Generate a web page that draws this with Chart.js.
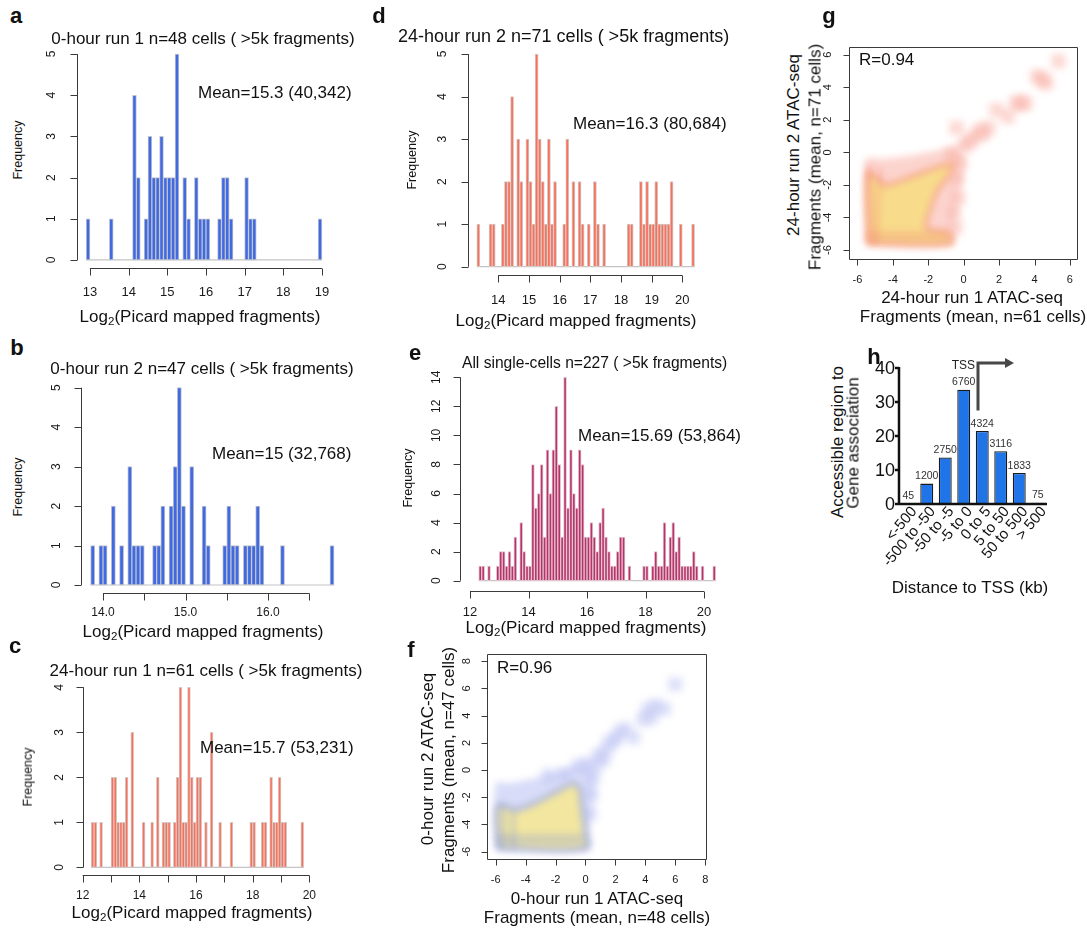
<!DOCTYPE html>
<html>
<head>
<meta charset="utf-8">
<title>Single-cell ATAC fragments</title>
<script src="https://cdn.jsdelivr.net/npm/chart.js@4.4.1/dist/chart.umd.min.js"></script>
<style>
  body { margin: 0; background: #fff; }
  #fig { position: relative; width: 1087px; height: 928px; overflow: hidden;
         font-family: "Liberation Sans", Arial, Helvetica, sans-serif; color: #111; }
  #fig canvas { position: absolute; }
  .t, .m, .lab { position: absolute; white-space: nowrap; line-height: 1; z-index: 2; }
  .t { transform: translate(-50%, -50%); font-size: 17px; }
  .m { transform: translateY(-50%); font-size: 17px; }
  .r { transform: translate(-50%, -50%) rotate(-90deg); }
  .fq { font-size: 12.5px; }
  .lab { transform: translate(-50%, -50%); font-size: 22px; font-weight: bold; }
  sub { font-size: 0.68em; vertical-align: -0.3em; line-height: 0; }
</style>
</head>
<body>
<div id="fig">
  <!-- a -->
  <div class="lab" style="left:16px;top:16px">a</div>
  <div class="t" style="left:203px;top:38px">0-hour run 1 n=48 cells ( &gt;5k fragments)</div>
  <div class="t r fq" style="left:18px;top:150px">Frequency</div>
  <div class="m" style="left:198px;top:92px">Mean=15.3 (40,342)</div>
  <div class="t" style="left:200px;top:316px">Log<sub>2</sub>(Picard mapped fragments)</div>
  <!-- b -->
  <div class="lab" style="left:17px;top:348px">b</div>
  <div class="t" style="left:202px;top:368px">0-hour run 2 n=47 cells ( &gt;5k fragments)</div>
  <div class="t r fq" style="left:18px;top:487px">Frequency</div>
  <div class="m" style="left:212px;top:453px">Mean=15 (32,768)</div>
  <div class="t" style="left:203px;top:631px">Log<sub>2</sub>(Picard mapped fragments)</div>
  <!-- c -->
  <div class="lab" style="left:15px;top:646px">c</div>
  <div class="t" style="left:206px;top:670px">24-hour run 1 n=61 cells ( &gt;5k fragments)</div>
  <div class="t r fq" style="left:28px;top:777px">Frequency</div>
  <div class="m" style="left:200px;top:747px">Mean=15.7 (53,231)</div>
  <div class="t" style="left:192px;top:912px">Log<sub>2</sub>(Picard mapped fragments)</div>
  <!-- d -->
  <div class="lab" style="left:379px;top:16px">d</div>
  <div class="m" style="left:398px;top:36px;font-size:18px">24-hour run 2 n=71 cells ( &gt;5k fragments)</div>
  <div class="t r fq" style="left:412px;top:160px">Frequency</div>
  <div class="m" style="left:573px;top:123px">Mean=16.3 (80,684)</div>
  <div class="t" style="left:576px;top:320px">Log<sub>2</sub>(Picard mapped fragments)</div>
  <!-- e -->
  <div class="lab" style="left:415px;top:353px">e</div>
  <div class="m" style="left:462px;top:363px;font-size:15.6px">All single-cells n=227 ( &gt;5k fragments)</div>
  <div class="t r fq" style="left:408px;top:478px">Frequency</div>
  <div class="m" style="left:578px;top:435px">Mean=15.69 (53,864)</div>
  <div class="t" style="left:586px;top:627px">Log<sub>2</sub>(Picard mapped fragments)</div>
  <!-- f -->
  <div class="lab" style="left:411px;top:650px">f</div>
  <div class="m" style="left:497px;top:667px">R=0.96</div>
  <div class="t r" style="left:427px;top:759px">0-hour run 2 ATAC-seq</div>
  <div class="t r" style="left:448px;top:760px">Fragments (mean, n=47 cells)</div>
  <div class="t" style="left:597px;top:898px">0-hour run 1 ATAC-seq</div>
  <div class="t" style="left:597px;top:917px">Fragments (mean, n=48 cells)</div>
  <!-- g -->
  <div class="lab" style="left:829px;top:16px">g</div>
  <div class="m" style="left:859px;top:59px">R=0.94</div>
  <div class="t r" style="left:793px;top:145px">24-hour run 2 ATAC-seq</div>
  <div class="t r" style="left:815px;top:157px">Fragments (mean, n=71 cells)</div>
  <div class="t" style="left:972px;top:297px">24-hour run 1 ATAC-seq</div>
  <div class="t" style="left:973px;top:316px">Fragments (mean, n=61 cells)</div>
  <!-- h -->
  <div class="lab" style="left:874px;top:357px">h</div>
  <div class="t r" style="left:837px;top:442px">Accessible region to</div>
  <div class="t r" style="left:853px;top:443px">Gene association</div>
  <div class="t" style="left:970px;top:587px">Distance to TSS (kb)</div>
</div>

<script>
var FONT = '"Liberation Sans", Arial, Helvetica, sans-serif';

// a: 0-hour run 1, bins of 0.1 (left edges)
var aBins = [12.9, 13.5, 14.1, 14.2, 14.4, 14.5, 14.6, 14.7, 14.8, 14.9, 15.0, 15.1, 15.2, 15.4, 15.5,
             15.7, 15.8, 15.9, 16.0, 16.3, 16.4, 16.5, 16.6, 17.0, 17.1, 17.2, 18.9];
var aCounts = [1, 1, 4, 2, 1, 3, 2, 2, 3, 2, 2, 2, 5, 2, 1, 2, 1, 1, 1, 1, 2, 2, 1, 2, 1, 1, 1];
var aXt = [13, 14, 15, 16, 17, 18, 19];
var aYt = [0, 1, 2, 3, 4, 5];

// b: 0-hour run 2, bins of 0.05
var bBins = [13.85, 13.95, 14.0, 14.1, 14.2, 14.3, 14.35, 14.4, 14.45, 14.6, 14.65, 14.7, 14.8, 14.85, 14.9,
             14.95, 15.05, 15.2, 15.25, 15.45, 15.5, 15.55, 15.6, 15.7, 15.75, 15.8, 15.85, 15.9, 16.15, 16.75];
var bCounts = [1, 1, 1, 2, 1, 3, 1, 1, 1, 1, 1, 2, 2, 3, 5, 2, 3, 2, 1, 1, 2, 1, 1, 1, 1, 1, 2, 1, 1, 1];
var bXt = [14, 14.5, 15, 15.5, 16, 16.5];
var bXl = ['14.0', '', '15.0', '', '16.0', ''];
var bYt = [0, 1, 2, 3, 4, 5];

// c: 24-hour run 1
var cBins = [12.3, 12.4, 12.6, 13.0, 13.1, 13.2, 13.3, 13.4, 13.5, 13.7, 14.1, 14.4, 14.6, 14.8, 14.9, 15.0,
             15.2, 15.3, 15.4, 15.5, 15.6, 15.7, 15.8, 15.9, 16.0, 16.1, 16.3, 16.5, 16.8, 17.2, 17.9, 18.0,
             18.3, 18.4, 18.6, 18.7, 18.8, 18.9, 19.0, 19.1, 19.7];
var cCounts = [1, 1, 1, 2, 2, 1, 1, 1, 2, 3, 1, 1, 2, 1, 1, 1, 1, 2, 4, 1, 1, 4, 2, 1, 2, 2, 1, 3, 1, 1, 1, 1,
               1, 1, 2, 1, 1, 2, 1, 1, 1];
var cXt = [12, 13, 14, 15, 16, 17, 18, 19, 20];
var cXl = ['12', '', '14', '', '16', '', '18', '', '20'];
var cYt = [0, 1, 2, 3, 4];

// d: 24-hour run 2
var dBins = [13.3, 13.7, 13.8, 14.1, 14.2, 14.3, 14.4, 14.6, 14.7, 14.9, 15.0, 15.1, 15.2, 15.3, 15.4, 15.5,
             15.6, 15.7, 15.8, 16.1, 16.2, 16.4, 16.6, 16.7, 16.9, 17.1, 17.2, 17.4, 18.2, 18.3, 18.6, 18.7,
             18.8, 18.9, 19.0, 19.1, 19.2, 19.3, 19.4, 19.5, 19.6, 19.9, 20.3];
var dCounts = [1, 1, 1, 1, 2, 2, 4, 3, 2, 3, 2, 1, 5, 3, 2, 1, 3, 1, 2, 1, 3, 2, 2, 1, 1, 2, 1, 1, 1, 1, 2, 1,
               2, 1, 1, 2, 1, 1, 1, 1, 2, 1, 1];
var dXt = [14, 15, 16, 17, 18, 19, 20];
var dYt = [0, 1, 2, 3, 4, 5];

// e: all single cells
var eBins = [12.3, 12.4, 12.6, 12.9, 13.0, 13.1, 13.2, 13.3, 13.4, 13.5, 13.7, 13.8, 13.9, 14.0, 14.1, 14.2,
             14.3, 14.4, 14.5, 14.6, 14.7, 14.8, 14.9, 15.0, 15.1, 15.2, 15.3, 15.4, 15.5, 15.6, 15.7, 15.8,
             15.9, 16.0, 16.1, 16.2, 16.3, 16.4, 16.5, 16.6, 16.7, 16.8, 16.9, 17.0, 17.1, 17.2, 17.4, 17.9,
             18.0, 18.2, 18.3, 18.4, 18.5, 18.6, 18.7, 18.8, 18.9, 19.0, 19.1, 19.2, 19.3, 19.4, 19.5, 19.6,
             19.7, 19.9, 20.3];
var eCounts = [1, 1, 1, 1, 2, 2, 1, 2, 1, 3, 4, 2, 1, 1, 8, 5, 6, 8, 3, 9, 6, 9, 12, 8, 3, 14, 5, 9, 6, 5, 9, 8,
               3, 3, 4, 3, 2, 4, 5, 3, 2, 1, 1, 2, 3, 3, 1, 1, 1, 1, 2, 1, 1, 4, 1, 3, 4, 2, 3, 1, 1, 1, 1, 2,
               1, 1, 1];
var eXt = [12, 14, 16, 18, 20];
var eYt = [0, 2, 4, 6, 8, 10, 12, 14];

// f: smoothScatter 0-hour run 1 vs run 2 (outline of the density cloud + lone points)
var fHaloX = [-6.0, -6.0, -5.0, -4.0, -3.0, -2.0, -1.0, -0.3, 0.4, 0.6, 0.4, 0.3, 0.2, -6.0];
var fHaloY = [-5.9, -1.0, -0.95, -0.75, -0.5, -0.15, 0.2, 0.4, 0.1, -1.2, -2.8, -4.5, -5.9, -5.9];
var fCoreX = [-5.85, -5.85, -4.6, -3.0, -2.0, -1.0, -0.6, -0.35, -0.25, -0.1, 0.0, 0.05, -5.85];
var fCoreY = [-5.75, -2.6, -2.9, -2.2, -1.6, -1.05, -1.0, -1.5, -2.5, -3.8, -4.6, -5.75, -5.75];
var fStripes = [[-5.55, -2.5, -5.55, -5.8], [-4.85, -2.8, -4.85, -5.8], [-5.9, -4.9, 0.0, -4.9], [-5.9, -5.3, 0.0, -5.3]];
var fPtX = [6.0, 4.2, 4.7, 5.25, 3.85, 4.4, 2.65, 3.2, 2.25, 1.6, 2.0, 1.35, 0.85, 1.15, 0.1, 0.6, -0.5, -1.45, -2.5, 0.5, 0.4, 0.3];
var fPtY = [6.3, 4.5, 4.7, 4.5, 3.75, 3.85, 3.0, 2.4, 2.75, 2.05, 2.2, 1.4, 1.05, 0.7, 0.45, 0.2, 0.3, -0.3, -0.4, -0.6, -1.8, -3.2];
var fXt = [-6, -4, -2, 0, 2, 4, 6, 8];
var fYt = [-6, -4, -2, 0, 2, 4, 6, 8];

// g: smoothScatter 24-hour run 1 vs run 2
var gHaloX = [-5.5, -5.5, -4.5, -3.0, -2.0, -1.0, -0.4, 0.0, -0.1, -0.3, -0.5, -0.65, -5.5];
var gHaloY = [-5.7, -0.5, -0.4, -0.2, 0.0, 0.2, 0.3, -0.5, -1.8, -3.0, -4.3, -5.7, -5.7];
var gCoreX = [-5.4, -5.4, -4.9, -4.4, -3.0, -2.0, -1.0, -0.6, -0.9, -1.5, -2.0, -2.1, -1.0, -0.7, -0.75, -5.4];
var gCoreY = [-5.6, -1.2, -1.6, -2.0, -1.5, -1.1, -0.75, -0.7, -1.5, -2.4, -3.9, -4.7, -4.9, -5.2, -5.6, -5.6];
var gStripes = [[-5.42, -0.6, -5.15, -5.6], [-4.7, -0.95, -4.95, -5.6], [-5.5, -5.0, -0.8, -5.0], [-5.5, -5.35, -0.8, -5.35]];
var gPtX = [5.35, 4.15, 4.45, 4.65, 3.5, 3.2, 2.95, 2.5, 1.85, 1.4, -0.4, 0.5, 1.05, 0.0, 0.3, -0.7, -0.2, -0.4, -0.3, -0.55, -0.45, 0.9];
var gPtY = [5.6, 4.65, 4.5, 4.25, 3.0, 3.05, 3.0, 2.2, 2.6, 1.5, 1.5, 0.9, 1.1, 0.4, 0.6, -0.1, -0.6, -1.6, -2.8, -3.7, -4.6, 1.35];
var gXt = [-6, -4, -2, 0, 2, 4, 6];
var gYt = [-6, -4, -2, 0, 2, 4, 6];

// h: accessible region to gene association
var hCats = ['<-500', '-500 to -50', '-50 to -5', '-5 to 0', '0 to 5', '5 to 50', '50 to 500', '> 500'];
var hPct = [0.2, 6.0, 13.7, 33.6, 21.5, 15.5, 9.1, 0.4];
var hN = [45, 1200, 2750, 6760, 4324, 3116, 1833, 75];
var hYt = [0, 10, 20, 30, 40];


// canvas placed so that its chart area lands on `area` [l, t, r, b] of the page
function mount(area, pad) {
    var cv = document.createElement('canvas');
    var L = Math.floor(area[0] - pad[0]), T = Math.floor(area[1] - pad[1]);
    var R = Math.ceil(area[2] + pad[2]), B = Math.ceil(area[3] + pad[3]);
    cv.width = R - L;
    cv.height = B - T;
    cv.style.left = L + 'px';
    cv.style.top = T + 'px';
    document.getElementById('fig').appendChild(cv);
    return { canvas: cv, pad: { left: area[0] - L, top: area[1] - T, right: R - area[2], bottom: B - area[3] } };
}

function opts(m, scales) {
    return {
        responsive: false, animation: false, devicePixelRatio: 1, events: [],
        layout: { padding: m.pad },
        scales: scales,
        plugins: { legend: { display: false }, tooltip: { enabled: false } }
    };
}

function pts(xs, ys) {
    return xs.map(function (x, i) { return { x: x, y: ys[i] }; });
}

// R style axes: lines only span the tick range, y labels turned 90deg
function axisPlugin(s) {
    return {
        id: 'rAxes',
        afterDraw: function (chart) {
            var ctx = chart.ctx, a = chart.chartArea, sx = chart.scales.x, sy = chart.scales.y;
            var px = s.xt.map(function (v) { return sx.getPixelForValue(v); });
            var py = s.yt.map(function (v) { return sy.getPixelForValue(v); });
            var tl = s.tick || 7;
            var bot = Math.round(a.bottom) + 0.5, lft = Math.round(a.left) + 0.5;
            ctx.save();
            ctx.strokeStyle = '#3a3a3a';
            ctx.lineWidth = 1;
            ctx.beginPath();
            if (s.box) {
                ctx.rect(lft, Math.round(a.top) + 0.5, Math.round(a.right - a.left), Math.round(a.bottom - a.top));
            } else {
                ctx.moveTo(px[0], bot); ctx.lineTo(px[px.length - 1], bot);
                ctx.moveTo(lft, py[0]); ctx.lineTo(lft, py[py.length - 1]);
            }
            px.forEach(function (p) { ctx.moveTo(Math.round(p) + 0.5, bot); ctx.lineTo(Math.round(p) + 0.5, bot + tl); });
            py.forEach(function (p) { ctx.moveTo(lft, Math.round(p) + 0.5); ctx.lineTo(lft - tl, Math.round(p) + 0.5); });
            ctx.stroke();

            ctx.fillStyle = '#1a1a1a';
            ctx.textAlign = 'center';
            ctx.textBaseline = 'middle';
            ctx.font = s.xf + 'px ' + FONT;
            px.forEach(function (p, i) {
                var txt = s.xl ? s.xl[i] : String(s.xt[i]);
                if (txt) ctx.fillText(txt, p, a.bottom + s.xo);
            });
            ctx.font = s.yf + 'px ' + FONT;
            py.forEach(function (p, i) {
                ctx.save();
                ctx.translate(a.left - s.yo, p);
                ctx.rotate(-Math.PI / 2);
                ctx.fillText(String(s.yt[i]), 0, 0);
                ctx.restore();
            });
            ctx.restore();
        }
    };
}

// blur while the datasets are painted (gives the smoothScatter look)
function softPlugin(r) {
    return {
        id: 'soft',
        beforeDatasetsDraw: function (chart) { chart.ctx.save(); chart.ctx.filter = 'blur(' + r + 'px)'; },
        afterDatasetsDraw: function (chart) { chart.ctx.restore(); }
    };
}

function hist(area, xr, yr, bins, counts, binW, fill, edge, ax) {
    var m = mount(area, [50, 12, 12, 40]);
    var bars = bins.map(function (b, i) { return { x: b + binW / 2, y: counts[i] }; });
    var last = bins[bins.length - 1] + binW;
    return new Chart(m.canvas, {
        type: 'bar',
        data: {
            datasets: [
                {
                    type: 'bar', data: bars, backgroundColor: fill, borderColor: edge, borderWidth: 1,
                    borderSkipped: false, categoryPercentage: 1, barPercentage: 1, order: 1
                },
                {
                    type: 'line', data: [{ x: bins[0], y: 0 }, { x: last, y: 0 }], borderColor: '#c4c4c4',
                    borderWidth: 1.2, pointRadius: 0, order: 2
                }
            ]
        },
        options: opts(m, {
            x: { type: 'linear', min: xr[0], max: xr[1], offset: false, display: false },
            y: { type: 'linear', min: yr[0], max: yr[1], display: false }
        }),
        plugins: [axisPlugin(ax)]
    });
}

function density(area, xr, yr, d, ax) {
    var m = mount(area, [46, 8, 2, 32]);
    var sets = [
        { type: 'line', data: pts(d.haloX, d.haloY), showLine: true, fill: 'shape', backgroundColor: d.halo,
          borderWidth: 0, pointRadius: 0, tension: 0.35, order: 5 },
        { type: 'scatter', data: pts(d.ptX, d.ptY), pointStyle: 'rect', pointRadius: 10,
          backgroundColor: d.dot, borderWidth: 0, order: 4 },
        { type: 'line', data: pts(d.coreX, d.coreY), showLine: true, fill: 'shape', backgroundColor: d.core,
          borderColor: d.edge, borderWidth: 3, pointRadius: 0, tension: 0.3, order: 3 }
    ];
    d.stripes.forEach(function (s) {
        sets.push({ type: 'line', data: [{ x: s[0], y: s[1] }, { x: s[2], y: s[3] }], showLine: true,
                    borderColor: d.edge, borderWidth: 2, pointRadius: 0, fill: false, order: 2 });
    });
    return new Chart(m.canvas, {
        type: 'scatter',
        data: { datasets: sets },
        options: opts(m, {
            x: { type: 'linear', min: xr[0], max: xr[1], display: false },
            y: { type: 'linear', min: yr[0], max: yr[1], display: false }
        }),
        plugins: [softPlugin(3.5), axisPlugin(ax)]
    });
}

// GraphPad style axes for panel h, counts over the bars and the TSS arrow
function prismPlugin() {
    return {
        id: 'prism',
        afterDraw: function (chart) {
            var ctx = chart.ctx, a = chart.chartArea, sx = chart.scales.x, sy = chart.scales.y;
            ctx.save();
            ctx.strokeStyle = '#111';
            ctx.lineWidth = 2.5;
            ctx.beginPath();
            ctx.moveTo(a.left, sy.getPixelForValue(hYt[hYt.length - 1]) - 1);
            ctx.lineTo(a.left, a.bottom);
            ctx.lineTo(a.right, a.bottom);
            hYt.forEach(function (v) {
                var p = sy.getPixelForValue(v);
                ctx.moveTo(a.left, p); ctx.lineTo(a.left - 4, p);
            });
            ctx.stroke();

            ctx.fillStyle = '#111';
            ctx.font = '18px ' + FONT;
            ctx.textAlign = 'right';
            ctx.textBaseline = 'middle';
            hYt.forEach(function (v) { ctx.fillText(String(v), a.left - 4, sy.getPixelForValue(v) + 1); });

            ctx.font = '15px ' + FONT;
            hCats.forEach(function (c, i) {
                ctx.save();
                ctx.translate(sx.getPixelForValue(i) + 6, a.bottom + 5);
                ctx.rotate(-50 * Math.PI / 180);
                ctx.fillText(c, 0, 0);
                ctx.restore();
            });

            var meta = chart.getDatasetMeta(0);
            ctx.font = '10.5px ' + FONT;
            ctx.fillStyle = '#333';
            ctx.textAlign = 'center';
            ctx.textBaseline = 'bottom';
            meta.data.forEach(function (b, i) { ctx.fillText(String(hN[i]), b.x, b.y - 2); });

            // TSS arrow between "-5 to 0" and "0 to 5"
            var xl = (sx.getPixelForValue(3) + sx.getPixelForValue(4)) / 2 + 5;
            var xr = xl + 36, yt = a.top - 5, yb = sy.getPixelForValue(27.5);
            ctx.strokeStyle = '#474747';
            ctx.fillStyle = '#474747';
            ctx.lineWidth = 3;
            ctx.beginPath();
            ctx.moveTo(xl, yb); ctx.lineTo(xl, yt); ctx.lineTo(xr - 6, yt);
            ctx.stroke();
            ctx.beginPath();
            ctx.moveTo(xr, yt); ctx.lineTo(xr - 9, yt - 5); ctx.lineTo(xr - 9, yt + 5);
            ctx.closePath();
            ctx.fill();
            ctx.font = '12px ' + FONT;
            ctx.textAlign = 'right';
            ctx.textBaseline = 'middle';
            ctx.fillStyle = '#222';
            ctx.fillText('TSS', xl - 3, yt + 3);
            ctx.restore();
        }
    };
}

var BLUE = '#4169e1', BLUE_EDGE = '#bfc3cc';
var SALMON = '#f8705a', SALMON_EDGE = '#d6c9c6';
var MAROON = '#b8336a', MAROON_EDGE = '#e2c3cf';

hist([76.7, 45.8, 331.4, 268.2], [12.656, 19.244], [-0.2, 5.2], aBins, aCounts, 0.1, BLUE, BLUE_EDGE,
     { xt: aXt, yt: aYt, xo: 24, yo: 25, xf: 13, yf: 12 });
hist([80.9, 379.8, 343.8, 592.9], [13.732, 16.918], [-0.2, 5.2], bBins, bCounts, 0.05, BLUE, BLUE_EDGE,
     { xt: bXt, xl: bXl, yt: bYt, xo: 20, yo: 24, xf: 12, yf: 12 });
hist([82.7, 680.1, 312.2, 874.5], [12.0, 20.1], [-0.16, 4.16], cBins, cCounts, 0.1, SALMON, SALMON_EDGE,
     { xt: cXt, xl: cXl, yt: cYt, xo: 21, yo: 23, xf: 12, yf: 12 });
hist([468.1, 45.5, 703.3, 275.2], [13.016, 20.684], [-0.2, 5.2], dBins, dCounts, 0.1, SALMON, SALMON_EDGE,
     { xt: dXt, yt: dYt, xo: 25, yo: 25, xf: 13, yf: 12 });
hist([460, 369.2, 725, 590.5], [11.658, 20.718], [-0.674, 14.557], eBins, eCounts, 0.1, MAROON, MAROON_EDGE,
     { xt: eXt, yt: eYt, xo: 22, yo: 23, xf: 13, yf: 12 });

density([487.3, 652.7, 713.3, 859.3], [-6.56, 8.05], [-6.56, 8.53], {
    haloX: fHaloX, haloY: fHaloY, coreX: fCoreX, coreY: fCoreY, stripes: fStripes, ptX: fPtX, ptY: fPtY,
    halo: 'rgba(205,210,246,0.78)', core: '#f2e6a0', edge: 'rgba(118,142,228,0.72)', dot: 'rgba(185,190,242,0.45)'
}, { xt: fXt, yt: fYt, box: true, tick: 6, xo: 21, yo: 20, xf: 11, yf: 11 });

density([849.3, 45, 1085, 259.3], [-6.46, 6.4], [-6.57, 6.47], {
    haloX: gHaloX, haloY: gHaloY, coreX: gCoreX, coreY: gCoreY, stripes: gStripes, ptX: gPtX, ptY: gPtY,
    halo: 'rgba(252,204,198,0.85)', core: '#f8dc8c', edge: 'rgba(244,128,112,0.72)', dot: 'rgba(250,180,170,0.5)'
}, { xt: gXt, yt: gYt, box: true, tick: 6, xo: 21, yo: 21, xf: 11, yf: 11 });

var hm = mount([899, 368, 1047, 504], [50, 15, 12, 80]);
new Chart(hm.canvas, {
    type: 'bar',
    data: {
        labels: hCats,
        datasets: [{
            data: hPct, backgroundColor: '#1f74e8', borderColor: '#1a1a1a', borderWidth: 1.3,
            barPercentage: 0.7, categoryPercentage: 1
        }]
    },
    options: opts(hm, {
        x: { type: 'category', offset: true, display: false },
        y: { type: 'linear', min: 0, max: 40, display: false }
    }),
    plugins: [prismPlugin()]
});
</script>
</body>
</html>
